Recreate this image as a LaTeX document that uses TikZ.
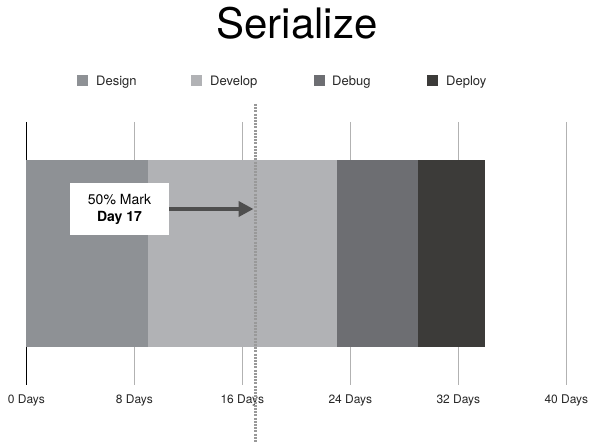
\documentclass[tikz,border=0pt]{standalone}
\usepackage{fontspec}
\setmainfont{TeX Gyre Heros}
\usepackage{tikz}
\usepackage{xcolor}
\usetikzlibrary{positioning, arrows.meta}

\definecolor{designgray}{HTML}{8E9195}
\definecolor{developgray}{HTML}{B1B2B5}
\definecolor{debuggray}{HTML}{6D6E72}
\definecolor{deploygray}{HTML}{3C3B39}
\definecolor{arrowgray}{HTML}{4E4E4E}

\begin{document}
\begin{tikzpicture}[
  x=1pt, y=-1pt,
  legendbox/.style={fill=#1, minimum size=11pt, inner sep=0pt},
  legendtext/.style={font=\fontsize{13}{15}\selectfont, text=black!85, anchor=base west, inner sep=0pt},
  daylabel/.style={font=\fontsize{12}{14}\selectfont, text=black!85, anchor=base, inner sep=0pt},
  gridline/.style={black!30, line width=1pt},
  markline/.style={black!40, line width=2.5pt, dash pattern=on 2pt off 1.2pt},
  markbox/.style={fill=white, minimum width=99pt, minimum height=52pt, align=center, inner sep=0pt, font=\fontsize{14}{17}\selectfont}
]
\useasboundingbox (0,0) rectangle (589,443);

% Title
\node[font=\fontsize{42}{48}\selectfont, anchor=base] (title) at (297,39) {Serialize};

% Legend
\node[legendbox=designgray] (ldesign) at (82.5,80.5) {};
\node[legendtext] (tdesign) at (96,86) {Design};
\node[legendbox=developgray] (ldevelop) at (196.5,80.5) {};
\node[legendtext] (tdevelop) at (210,86) {Develop};
\node[legendbox=debuggray] (ldebug) at (319.5,80.5) {};
\node[legendtext] (tdebug) at (332,86) {Debug};
\node[legendbox=deploygray] (ldeploy) at (432.5,80.5) {};
\node[legendtext] (tdeploy) at (446,86) {Deploy};

% Grid lines and day labels
\foreach \d in {8,16,...,40} {
  \draw[gridline] ({26.3+\d*13.5},122) -- ({26.3+\d*13.5},385);
  \node[daylabel] (day\d) at ({26.3+\d*13.5},403) {\d{} Days};
}
\draw[black, line width=1pt] (26.3,122) -- (26.3,385);
\node[daylabel] (day0) at (26.3,403) {0 Days};

% Phases
\fill[designgray] (26.3,160) rectangle ({26.3+9*13.5},347);
\fill[developgray] ({26.3+9*13.5},160) rectangle ({26.3+23*13.5},347);
\fill[debuggray] ({26.3+23*13.5},160) rectangle ({26.3+29*13.5},347);
\fill[deploygray] ({26.3+29*13.5},160) rectangle ({26.3+34*13.5},347);

% 50% mark
\draw[markline] (255.5,104) -- (255.5,443);
\coordinate (halfway) at (253.5,209);
\node[markbox] (mark) at (119.5,209) {50\% Mark\\\textbf{Day 17}};
\draw[arrowgray, line width=4pt, -{Triangle[length=15pt, width=15pt]}] (mark.east) -- (halfway);

\end{tikzpicture}
\end{document}
